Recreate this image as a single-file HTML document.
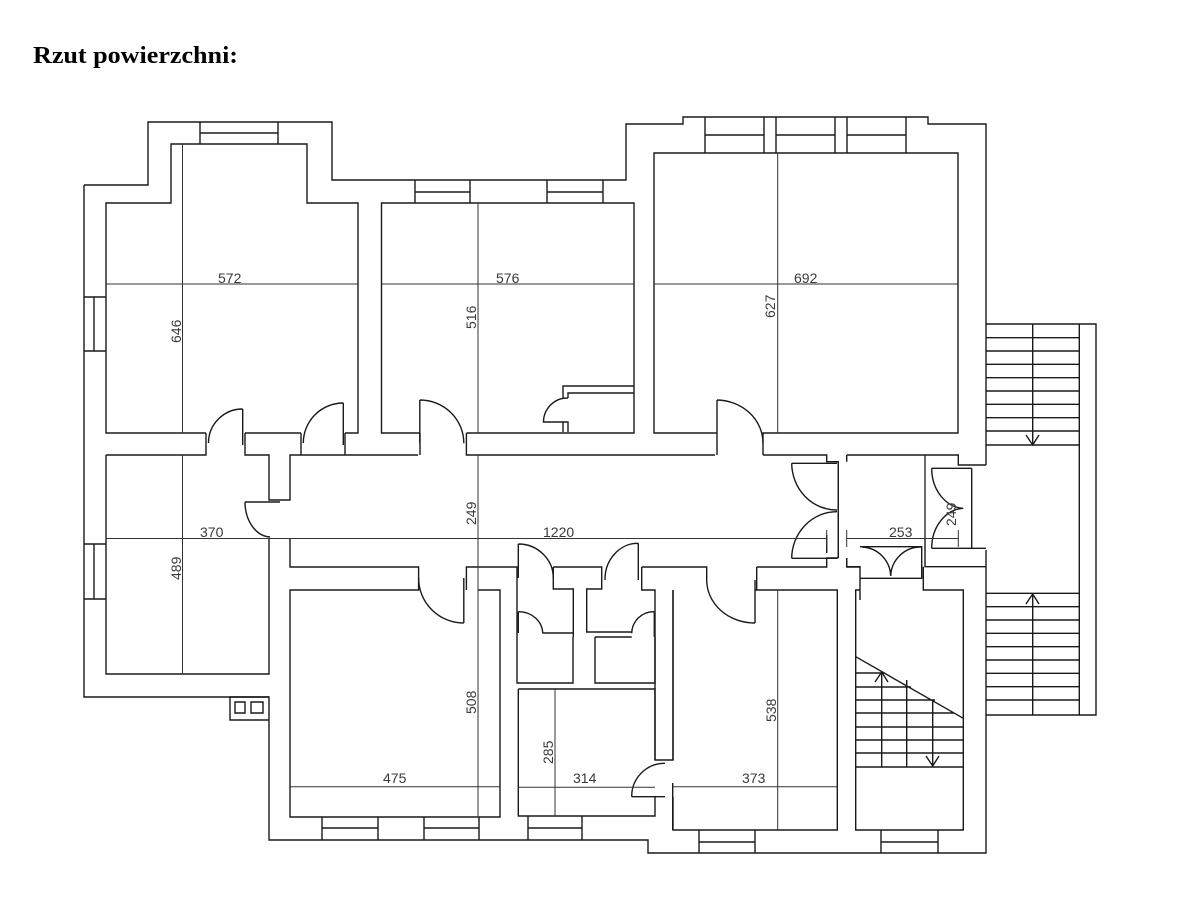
<!DOCTYPE html>
<html><head><meta charset="utf-8"><style>
html,body{margin:0;padding:0;background:#fff;width:1200px;height:900px;overflow:hidden}
svg{display:block}
.w{fill:none;stroke:#1a1a1a;stroke-width:1.4}
.t{fill:none;stroke:#333;stroke-width:1}
.l{font-family:"Liberation Sans",sans-serif;font-size:14px;fill:#3a3a3a}
</style></head><body>
<svg width="1200" height="900" viewBox="0 0 1200 900" xmlns="http://www.w3.org/2000/svg">
<text x="33" y="63" textLength="205" lengthAdjust="spacingAndGlyphs" style="font-family:'Liberation Serif',serif;font-weight:bold;font-size:24px;fill:#000">Rzut powierzchni:</text>

<!-- outer walls -->
<path class="w" d="M84,185 H148 V122 H332 V180 H626 V124 H683 V117 H928 V124 H986 V465 M986,550 V853 H648 V840 H269 V697 H84 V185"/>
<!-- chimney -->
<path class="w" d="M269,697 H230 V720 H269 M235,702 h10 v11 h-10 z M251,702 h12 v11 h-12 z"/>

<!-- windows -->
<path class="w" d="M200,122 V144 M278,122 V144 M200,133 H278"/>
<path class="w" d="M415,180 V203 M470,180 V203 M415,192 H470 M547,180 V203 M603,180 V203 M547,192 H603"/>
<path class="w" d="M705,117 V153 M764,117 V153 M705,135 H764 M776,117 V153 M835,117 V153 M776,135 H835 M847,117 V153 M906,117 V153 M847,135 H906"/>
<path class="w" d="M84,297 H106 M84,351 H106 M94,297 V351 M84,544 H106 M84,599 H106 M94,544 V599"/>
<path class="w" d="M322,817 V840 M378,817 V840 M322,828 H378 M424,817 V840 M479,817 V840 M424,828 H479 M528,816 V840 M582,816 V840 M528,828 H582"/>
<path class="w" d="M699,830 V853 M755,830 V853 M699,842 H755 M881,830 V853 M938,830 V853 M881,842 H938"/>

<!-- room A (572) -->
<path class="w" d="M206,433 H106 V203 H171 V144 H307 V203 H358 V433 H345 M301,433 H245"/>
<path class="w" d="M206,433 V455 H106 M245,433 V455 H269 V500 H290 V455 H418 M301,433 V455 M345,433 V455"/>
<path class="w" d="M242.7,409 V445 M242.7,409 A34,34 0 0 0 208.5,443 M343.3,403 V445 M343.3,403 A40,40 0 0 0 303.3,443"/>
<!-- room B (576) -->
<path class="w" d="M420,433 H381.5 V203 H634 V433 H466.4 M420,433 V455 M466.4,433 V455 H715"/>
<path class="w" d="M419.8,400 V443 M419.8,400 A44,43 0 0 1 463.8,443.3"/>
<path class="w" d="M634,386 H563 V398 M634,393 H568 V398 M563,432 V422 H568 V432 M568,398 A24,24 0 0 0 543.5,422 H563"/>
<!-- room 692 -->
<path class="w" d="M717,433 H654 V153 H958 V433 H763 V455 M717,433 V455 M763,455 H826.7 V461.7 H838.3 V558"/>
<path class="w" d="M717,400 V433 M717,400 A47,43 0 0 1 763,443"/>

<!-- room 370 -->
<path class="w" d="M106,455 V674 H269 V538 M245,502 H280 M245,502 A26,35 0 0 0 270,537"/>

<!-- corridor bottom -->
<path class="w" d="M290,538 V567 H418.6 V590 H290 V817 H500 V590 H478 M466.4,590 V567 H517 V683 H573 V637 M290,590"/>
<path class="w" d="M463.8,578 V623 M418.6,578 A45,45 0 0 0 463.8,623"/>
<path class="w" d="M553.3,567 H601.7 V589 H586.7 V632 H631.7 M553.3,567 V589 H573.3 V633 H542.7 M573.3,633 V637"/>
<path class="w" d="M518.3,544 V578 M518.3,544 A35,34 0 0 1 553.3,578"/>
<path class="w" d="M638.3,543.3 V580 M638.3,543.3 A33,36 0 0 0 605,580"/>
<path class="w" d="M518.3,611.7 V633 M518.3,611.7 A24,22 0 0 1 542.7,633.3 M654.3,611.7 V637 M654.3,611.7 A22,22 0 0 0 631.7,633.3"/>
<path class="w" d="M595,637 H631.7 M595,637 V683 H655 V637"/>
<path class="w" d="M641.7,567 H706.7 V580 M641.7,567 V590 H655 V760 H673 V590 M756.7,567 V590 M756.7,567 H826.7 V558 H838.3 M846.7,558 V567 H860"/>
<!-- lower middle room (285/314) -->
<path class="w" d="M518.3,689 H655 V760 M518.3,689 V816 H655 V797 M631.7,796.7 H665 M631.7,796.7 A33,33 0 0 1 665,763.3 M672.7,783 V830"/>
<!-- room 538 -->
<path class="w" d="M755,590 H837.3 V830 H673 V797 M673,590 V760 M755,580 V623 M706.7,580 A48,43 0 0 0 755,623"/>

<!-- vestibule / 253 -->
<path class="w" d="M846.7,455 V461.7 M846.7,455 H958.3 V465 H986 M838.3,461.7 V558 M925,455 V566.7 H986 M846.7,558 V566.7 H860 V600 M860,546.7 H921.7 V578.3 H860 M923.3,566.7 V590 H963.3 V830 H855.7 V590 H860"/>
<path class="w" d="M862,547 A30,30 0 0 1 890.7,576 M921,547 A30,30 0 0 0 890.7,576"/>
<path class="w" d="M791.7,463.3 H837 M791.7,463.3 A45,47 0 0 0 837,510 M791.7,558.3 H837 M791.7,558.3 A45,47 0 0 1 837,511.7 M826.7,535 V553"/>
<path class="w" d="M971.7,468.3 V548.3 H931.7 M971.7,468.3 H931.7 M931.7,468.3 A33,40 0 0 0 963.3,508.3 M931.7,548.3 A33,40 0 0 1 963.3,508.3 M971.7,548.3 H986"/>

<!-- interior stairs -->
<path class="w" d="M855.7,656.7 L963.3,718.3 M855.7,673 H885 M855.7,687 H911 M855.7,700 H935 M855.7,713 H954 M855.7,727 H963.3 M855.7,740 H963.3 M855.7,753 H963.3 M855.7,767 H963.3"/>
<path class="w" d="M881.7,671 V767 M906.7,680 V767 M932.7,700 V767 M875,682 L881.7,672 L888,682 M926,756 L932.7,766 L939,756"/>

<!-- external stairs -->
<path class="w" d="M986,324 H1096 V715 H1079.3 V324 M1032.7,324 V445 M1032.7,593 V715 M986,715 H1079.3"/>
<path class="w" d="M986,337.7 H1079.3 M986,351 H1079.3 M986,364.3 H1079.3 M986,377.7 H1079.3 M986,391 H1079.3 M986,404.3 H1079.3 M986,417.7 H1079.3 M986,431 H1079.3 M986,445 H1079.3"/>
<path class="w" d="M986,593.3 H1079.3 M986,606.7 H1079.3 M986,620 H1079.3 M986,633.3 H1079.3 M986,646.7 H1079.3 M986,660 H1079.3 M986,673.3 H1079.3 M986,686.7 H1079.3 M986,700 H1079.3"/>
<path class="w" d="M1026,435 L1032.7,445 L1039,435 M1026,604 L1032.7,594 L1039,604"/>

<!-- dimension lines -->
<path class="t" d="M106,284 H358 M381.5,284 H634 M654,284 H958.3 M182.5,144 V433 M478,203 V433 M777.7,153 V433"/>
<path class="t" d="M106,538.5 H826.7 M846.7,538.5 H958.3 M826.7,530 V547 M846.7,530 V547 M958.3,530 V547 M182.5,455 V674 M478,455 V817 M290,786.7 H500 M518.3,787.3 H655 M555,689 V816 M673.3,786.7 H837.3 M777.7,590 V830 M925,455 V538"/>

<!-- labels -->
<text class="l" x="218" y="283">572</text>
<text class="l" x="496" y="283">576</text>
<text class="l" x="794" y="283">692</text>
<text class="l" x="200" y="537">370</text>
<text class="l" x="543" y="537">1220</text>
<text class="l" x="889" y="537">253</text>
<text class="l" x="383" y="783">475</text>
<text class="l" x="573" y="783">314</text>
<text class="l" x="742" y="783">373</text>
<text class="l" transform="translate(181,343) rotate(-90)">646</text>
<text class="l" transform="translate(476,329) rotate(-90)">516</text>
<text class="l" transform="translate(775,318) rotate(-90)">627</text>
<text class="l" transform="translate(181,580) rotate(-90)">489</text>
<text class="l" transform="translate(476,525) rotate(-90)">249</text>
<text class="l" transform="translate(956,526) rotate(-90)">249</text>
<text class="l" transform="translate(476,714) rotate(-90)">508</text>
<text class="l" transform="translate(553,764) rotate(-90)">285</text>
<text class="l" transform="translate(776,722) rotate(-90)">538</text>
</svg>
</body></html>
